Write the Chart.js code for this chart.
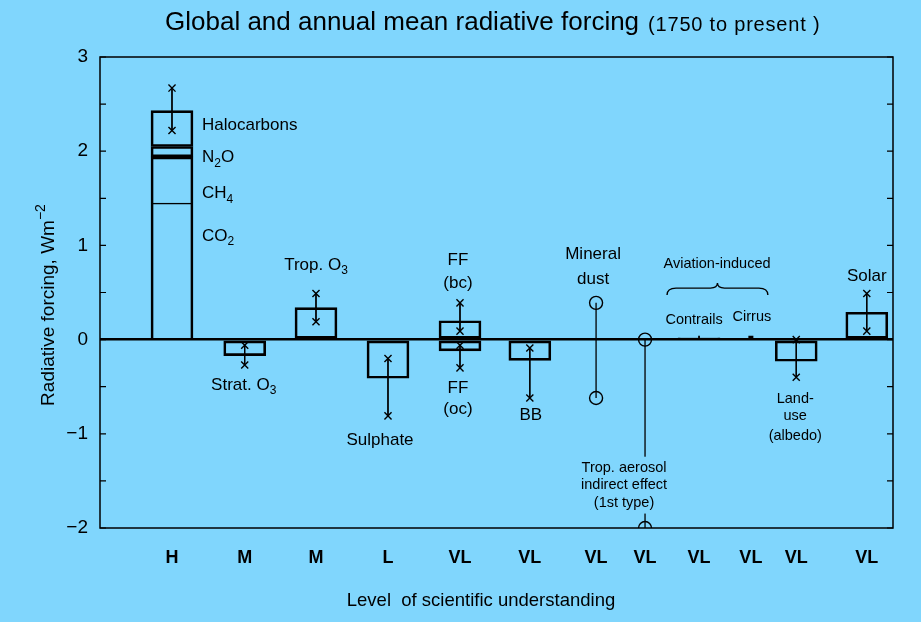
<!DOCTYPE html>
<html><head><meta charset="utf-8">
<script src="https://cdn.jsdelivr.net/npm/chart.js@4.4.1/dist/chart.umd.min.js"></script>
<style>html,body{margin:0;padding:0;background:#80d6fd;}canvas{display:block}</style>
</head><body>
<canvas id="c" width="921" height="622"></canvas>
<script>
// ---------------- DATA ----------------
const categories = ['Greenhouse gases','Strat. O3','Trop. O3','Sulphate','FF (bc / oc)','BB',
  'Mineral dust','Trop. aerosol indirect effect','Contrails','Cirrus','Land-use (albedo)','Solar'];
const levels = ['H','M','M','L','VL','VL','VL','VL','VL','VL','VL','VL'];
// position of each category along the x axis (category slots, uneven as in the original)
const slotPos = [1.0, 2.01, 3.0, 4.0, 5.0, 5.97, 6.89, 7.57, 8.32, 9.04, 9.67, 10.65];

const ghgNames = ['CO2','CH4','N2O','Halocarbons'];
const ghgForcing = [1.45, 0.49, 0.11, 0.38];

// best estimates (index 0 = well-mixed GHGs, drawn from ghgForcing; index 4 = FF black carbon)
const bestEstimate = [null, -0.17, 0.34, -0.41, 0.20, -0.22, null, null, 0.02, null, -0.23, 0.29];
const ffOcEstimate = -0.12;

// uncertainty ranges
const rangeHigh = [2.67, -0.06, 0.49, -0.20, 0.39, -0.09, 0.39, 0.00, 0.04, 0.04, 0.00, 0.49];
const rangeLow  = [2.22, -0.27, 0.19, -0.81, 0.09, -0.62, -0.62, -2.00, 0.01, 0.00, -0.40, 0.09];
const rangeMarker = ['x','x','x','x','x','x','o','o','-','dot','x','x'];
const ffOcRange = [-0.06, -0.30];

const yTicks = [-2, -1, 0, 1, 2, 3];

// ---------------- BUILD ----------------
const BG = '#80d6fd';
const FONT = '"Liberation Sans", Arial, Helvetica, sans-serif';

const ghgBars = [];
let acc = 0;
ghgForcing.forEach(v => { ghgBars.push({x: slotPos[0], y: [acc, acc + v]}); acc += v; });

const boxBars = [];
bestEstimate.forEach((v, i) => {
  if (v === null) return;
  boxBars.push({x: slotPos[i], y: [Math.min(0, v), Math.max(0, v)]});
});
boxBars.push({x: slotPos[4], y: [ffOcEstimate, 0]});

const xRange = [], oRange = [], thinRange = [], dotRange = [];
rangeMarker.forEach((m, i) => {
  const seg = [{x: slotPos[i], y: rangeHigh[i]}, {x: slotPos[i], y: rangeLow[i]}, {x: slotPos[i], y: null}];
  if (m === 'x') xRange.push(...seg);
  else if (m === 'o') oRange.push(...seg);
  else if (m === '-') thinRange.push(...seg);
  else if (m === 'dot') dotRange.push(...seg);
});
xRange.push({x: slotPos[4], y: ffOcRange[0]}, {x: slotPos[4], y: ffOcRange[1]}, {x: slotPos[4], y: null});

function rich(ctx, segs, x, y, align, size, weight) {
  const fN = `${weight || 'normal'} ${size}px ${FONT}`;
  const fS = `${weight || 'normal'} ${Math.round(size * 0.72)}px ${FONT}`;
  let w = 0;
  const ws = segs.map(s => { ctx.font = s[1] ? fS : fN; const m = ctx.measureText(s[0]).width; w += m; return m; });
  let cx = align === 'left' ? x : align === 'right' ? x - w : x - w / 2;
  ctx.textAlign = 'left';
  ctx.textBaseline = 'middle';
  segs.forEach((s, k) => {
    ctx.font = s[1] ? fS : fN;
    const dy = s[1] === 1 ? size * 0.33 : s[1] === 2 ? -size * 0.42 : 0;
    ctx.fillText(s[0], cx, y + dy);
    cx += ws[k];
  });
}

const notes = [
  {s:0, dx:30, v:2.28, al:'left', t:[['Halocarbons']]},
  {s:0, dx:30, v:1.93, al:'left', t:[['N'],['2',1],['O']]},
  {s:0, dx:30, v:1.55, al:'left', t:[['CH'],['4',1]]},
  {s:0, dx:30, v:1.10, al:'left', t:[['CO'],['2',1]]},
  {s:2, dx:0, v:0.79, t:[['Trop. O'],['3',1]]},
  {s:1, dx:-1, v:-0.48, t:[['Strat. O'],['3',1]]},
  {s:3, dx:-8, v:-1.07, t:[['Sulphate']]},
  {s:4, dx:-2, v:0.84, t:[['FF']]},
  {s:4, dx:-2, v:0.60, t:[['(bc)']]},
  {s:4, dx:-2, v:-0.52, t:[['FF']]},
  {s:4, dx:-2, v:-0.74, t:[['(oc)']]},
  {s:5, dx:1, v:-0.80, t:[['BB']]},
  {s:6, dx:-3, v:0.91, t:[['Mineral']]},
  {s:6, dx:-3, v:0.64, t:[['dust']]},
  {s:8, dx:18, v:0.80, size:14.5, t:[['Aviation-induced']]},
  {s:8, dx:-5, v:0.21, size:14.5, t:[['Contrails']]},
  {s:9, dx:1, v:0.245, size:14.5, t:[['Cirrus']]},
  {s:10, dx:-1, v:-0.63, size:14.5, t:[['Land-']]},
  {s:10, dx:-1, v:-0.81, size:14.5, t:[['use']]},
  {s:10, dx:-1, v:-1.02, size:14.5, t:[['(albedo)']]},
  {s:11, dx:0, v:0.67, t:[['Solar']]},
  {s:7, dx:-21, v:-1.36, size:14.5, t:[['Trop. aerosol']]},
  {s:7, dx:-21, v:-1.545, size:14.5, t:[['indirect effect']]},
  {s:7, dx:-21, v:-1.73, size:14.5, t:[['(1st type)']]},
];

const decor = {
  id: 'decor',
  beforeDraw(chart) {
    const c = chart.ctx;
    c.save(); c.fillStyle = BG; c.fillRect(0, 0, chart.width, chart.height); c.restore();
  },
  afterDatasetsDraw(chart) {
    const c = chart.ctx, a = chart.chartArea, X = chart.scales.x, Y = chart.scales.y;
    const px = i => X.getPixelForValue(slotPos[i]);
    const py = v => Y.getPixelForValue(v);
    c.save();
    // frame
    c.strokeStyle = '#000'; c.lineWidth = 1.5;
    c.strokeRect(a.left, a.top, a.right - a.left, a.bottom - a.top);
    // inner minor ticks
    c.lineWidth = 1.2;
    for (let v = -2; v <= 3.001; v += 0.5) {
      const y = py(v);
      c.beginPath(); c.moveTo(a.left, y); c.lineTo(a.left + 6, y);
      c.moveTo(a.right, y); c.lineTo(a.right - 6, y); c.stroke();
    }
    // mask behind indirect-effect label
    c.fillStyle = BG;
    c.fillRect(px(7) - 8, py(-1.36) - 11, 16, py(-1.73) - py(-1.36) + 22);
    // brace for aviation-induced
    const b0 = px(8) - 32, b1 = px(9) + 17, bm = (b0 + b1) / 2, yp = py(0.60), ya = yp + 5, ye = yp + 12;
    c.lineWidth = 1.4; c.beginPath();
    c.moveTo(b0, ye); c.quadraticCurveTo(b0, ya, b0 + 9, ya); c.lineTo(bm - 7, ya);
    c.quadraticCurveTo(bm, ya, bm, yp); c.quadraticCurveTo(bm, ya, bm + 7, ya);
    c.lineTo(b1 - 9, ya); c.quadraticCurveTo(b1, ya, b1, ye); c.stroke();
    // notes
    c.fillStyle = '#000';
    notes.forEach(n => rich(c, n.t, px(n.s) + n.dx, py(n.v), n.al || 'center', n.size || 17));
    // title
    c.textBaseline = 'middle'; c.textAlign = 'left';
    c.font = `26px ${FONT}`;
    const t1 = 'Global and annual mean radiative forcing';
    c.fillText(t1, 165, 23);
    const w1 = c.measureText(t1).width;
    c.font = `20px ${FONT}`;
    c.letterSpacing = '0.8px';
    c.fillText('(1750 to present )', 165 + w1 + 9, 25);
    c.letterSpacing = '0px';
    // x title
    c.textAlign = 'center';
    c.font = `18.5px ${FONT}`;
    c.fillText('Level  of scientific understanding', 481, 601);
    // y title
    c.translate(49, 305); c.rotate(-Math.PI / 2);
    rich(c, [['Radiative forcing, Wm'], ['\u22122', 2]], 0, 0, 'center', 19);
    c.restore();
  }
};

new Chart(document.getElementById('c'), {
  type: 'scatter',
  data: {
    datasets: [
      {type: 'bar', label: 'GHG', data: ghgBars, barThickness: 42, grouped: false,
       backgroundColor: 'rgba(0,0,0,0)', borderColor: '#000', borderSkipped: false,
       borderWidth: ctx => ctx.dataIndex === 0 ? {top: 1, left: 2, right: 2, bottom: 0}
                          : ctx.dataIndex === 1 ? {top: 2, left: 2, right: 2, bottom: 0}
                          : {top: 2, left: 2, right: 2, bottom: 2}},
      {type: 'bar', label: 'Best estimate', data: boxBars, barThickness: 42, grouped: false,
       backgroundColor: 'rgba(0,0,0,0)', borderColor: '#000', borderWidth: 2, borderSkipped: false},
      {type: 'line', label: 'Range (x)', data: xRange, showLine: true, spanGaps: false,
       borderColor: '#000', borderWidth: 1, pointStyle: 'crossRot', pointRadius: 5,
       pointBorderWidth: 1.4, pointBorderColor: '#000', pointBackgroundColor: '#000'},
      {type: 'line', label: 'Range (o)', data: oRange, showLine: true, spanGaps: false,
       borderColor: '#000', borderWidth: 1.3, pointStyle: 'circle', pointRadius: 6.5,
       pointBorderWidth: 1.4, pointBorderColor: '#000', pointBackgroundColor: 'rgba(0,0,0,0)'},
      {type: 'line', label: 'Range (thin)', data: thinRange, showLine: true, spanGaps: false,
       borderColor: '#000', borderWidth: 1, pointRadius: 0},
      {type: 'line', label: 'Range (dot)', data: dotRange, showLine: true, spanGaps: false,
       borderColor: '#000', borderWidth: 5, borderCapStyle: 'butt', pointRadius: 0},
    ]
  },
  options: {
    responsive: false, animation: false,
    layout: {padding: {top: 57, right: 28, left: 0, bottom: 0}},
    plugins: {legend: {display: false}, tooltip: {enabled: false}, title: {display: false}},
    events: [],
    scales: {
      x: {
        type: 'linear', min: 0, max: 11.014, offset: false,
        afterBuildTicks: s => { s.ticks = slotPos.map(v => ({value: v})); },
        afterFit: s => { s.height = 94; },
        grid: {display: false, offset: false}, border: {display: false},
        ticks: {autoSkip: false, maxRotation: 0, padding: 11, color: '#000',
          font: {family: FONT, size: 18, weight: 'bold'},
          callback: (v, i) => levels[i]}
      },
      y: {
        type: 'linear', min: -2, max: 3,
        afterBuildTicks: s => { s.ticks = yTicks.map(v => ({value: v})); },
        afterFit: s => { s.width = 100; },
        border: {display: false},
        grid: {drawTicks: false,
          color: ctx => ctx.tick && ctx.tick.value === 0 ? '#000' : 'rgba(0,0,0,0)',
          lineWidth: ctx => ctx.tick && ctx.tick.value === 0 ? 2.6 : 0},
        ticks: {padding: 12, color: '#000', font: {family: FONT, size: 19},
          callback: v => v < 0 ? '\u2212' + (-v) : String(v)}
      }
    }
  },
  plugins: [decor]
});
</script>
</body></html>
